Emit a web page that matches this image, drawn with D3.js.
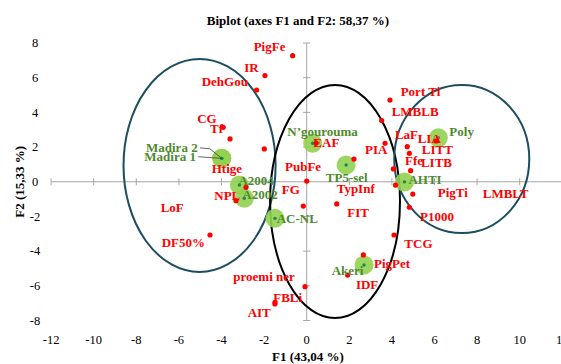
<!DOCTYPE html>
<html>
<head>
<meta charset="utf-8">
<script src="https://cdn.jsdelivr.net/npm/d3@7"></script>
<style>
  html, body { margin: 0; padding: 0; background: #fff; }
  svg { display: block; font-family: "Liberation Serif", "Times New Roman", serif; }
</style>
</head>
<body>
<svg id="chart" width="561" height="364"></svg>
<script>
// ---------- data ----------
const titleText = "Biplot (axes F1 and F2: 58,37 %)";
const xTitle = "F1 (43,04 %)";
const yTitle = "F2 (15,33 %)";
const xTicks = [-12, -10, -8, -6, -4, -2, 0, 2, 4, 6, 8, 10, 12];
const yTicks = [-8, -6, -4, -2, 0, 2, 4, 6, 8];

// active variables (red)
const varNames = ["PigFe", "IR", "DehGou", "CG", "Tf", "LoF", "Htige", "NPL", "DF50%", "proemi ner",
  "FBLi", "AIT", "EAF", "PubFe", "FG", "TypInf", "FIT", "PIA", "Port Ti", "LMBLB",
  "LaF", "LIA", "LITT", "Ffe", "LITB", "PigTi", "LMBLT", "P1000", "TCG", "PigPet", "IDF"];
const varX = [-0.66, -1.96, -2.35, -3.92, -3.60, -1.99, -2.85, -3.32, -4.54, -0.08,
  -1.49, -1.49, 0.44, 0.00, -0.16, 2.22, 1.41, 3.68, 3.91, 3.52,
  4.72, 6.07, 4.82, 4.07, 4.88, 4.98, 4.17, 4.82, 4.10, 2.66, 1.92];
const varY = [7.27, 6.12, 5.29, 3.14, 2.47, 1.89, -0.32, -1.09, -3.07, -6.05,
  -6.96, -7.05, 2.23, 0.04, -1.40, 1.31, -1.28, 2.22, 4.71, 3.53,
  2.02, 2.35, 1.64, 0.74, 0.64, -0.71, -0.19, -1.47, -3.07, -4.22, -5.38];

// observations (green)
const obsNames = ["Madira 2", "Madira 1", "A2004", "A2002", "AC-NL", "N\u2019gourouma", "TP5-sel", "Poly", "AHTI", "Akeri"];
const obsX = [-3.99, -3.99, -3.16, -2.93, -1.49, 0.28, 1.85, 6.18, 4.59, 2.69];
const obsY = [1.35, 1.35, -0.19, -0.95, -2.11, 2.22, 0.97, 2.54, -0.01, -4.80];

// group ellipses (data units)
const ellCx = [-5.03, 1.33, 7.28];
const ellCy = [0.94, -1.14, 1.31];
const ellRx = [3.57, 3.05, 3.17];
const ellRy = [6.14, 6.72, 4.27];

// ---------- layout (label offsets in px, relative to the point) ----------
const varLabelDx = [-39, -20.7, -55, -26, -20, -103.6, -34.3, -21.7, -48.3, -71.7,
  -1.7, -27.3, -2.7, -21.7, -21.6, -17.3, 10.6, -20, 10.7, 10,
  -12.3, -18.3, 12.4, 11.7, 10.3, 25, 87.2, 10.7, 10.3, 10.7, 8.3];
const varLabelDy = [-5, -4, -4, -4, -6, 62.7, -14, -0.7, 12.3, -6,
  -0.8, 13.3, 3.7, -10, -11.7, 34.3, 13.3, 11, -4.3, -4.8,
  -7.7, 1.7, 1, -4, -4, 3, 12.7, 13.7, 13.3, 13, 14];
const obsLabelDx = [-75.7, -77.4, -1, -2, 1.7, -25.4, -20.3, 11, 4, -32.3];
const obsLabelDy = [-6.3, 2.4, 0, 1, 5, -7.6, 16.7, -2, 2, 10];
const ellColors = ["#1d4d61", "#000000", "#1d4d61"];

// ---------- drawing ----------
const svg = d3.select("#chart");
const W = 561, H = 364;
svg.append("rect").attr("width", W).attr("height", H).attr("fill", "#fff");

const x = d3.scaleLinear().domain([-12, 12]).range([51.1, 562.3]);
const y = d3.scaleLinear().domain([-8, 8]).range([320.5, 43]);

// title
svg.append("text").attr("x", 298).attr("y", 25)
  .attr("text-anchor", "middle").attr("font-weight", "bold").attr("font-size", 13)
  .text(titleText);

// axes crossing at origin
const axisColor = "#a6a6a6";
const gAx = svg.append("g");
gAx.append("line").attr("x1", x(-12)).attr("x2", x(12)).attr("y1", y(0)).attr("y2", y(0))
  .attr("stroke", axisColor).attr("stroke-width", 1);
gAx.append("line").attr("x1", x(0)).attr("x2", x(0)).attr("y1", y(-8)).attr("y2", y(8))
  .attr("stroke", axisColor).attr("stroke-width", 1);
gAx.selectAll("line.xt").data(xTicks).enter().append("line")
  .attr("x1", d => x(d)).attr("x2", d => x(d)).attr("y1", y(0) - 3.5).attr("y2", y(0) + 3.5)
  .attr("stroke", axisColor);
gAx.selectAll("line.yt").data(yTicks).enter().append("line")
  .attr("x1", x(0) - 3.5).attr("x2", x(0) + 3.5).attr("y1", d => y(d)).attr("y2", d => y(d))
  .attr("stroke", axisColor);

// tick labels at the bottom / left
svg.selectAll("text.xl").data(xTicks).enter().append("text")
  .attr("x", d => x(d)).attr("y", 344).attr("text-anchor", "middle").attr("font-size", 12.5)
  .text(d => d);
svg.selectAll("text.yl").data(yTicks).enter().append("text")
  .attr("x", 35).attr("y", d => y(d) + 4.3).attr("text-anchor", "middle").attr("font-size", 12.5)
  .text(d => d);

// axis titles
svg.append("text").attr("x", 308).attr("y", 360.5).attr("text-anchor", "middle")
  .attr("font-weight", "bold").attr("font-size", 13).text(xTitle);
svg.append("text").attr("transform", "translate(24," + y(0) + ") rotate(-90)")
  .attr("text-anchor", "middle").attr("font-weight", "bold").attr("font-size", 13).text(yTitle);

// ellipses
svg.selectAll("ellipse.grp").data(ellCx).enter().append("ellipse")
  .attr("cx", d => x(d))
  .attr("cy", (d, i) => y(ellCy[i]))
  .attr("rx", (d, i) => x(ellRx[i]) - x(0))
  .attr("ry", (d, i) => y(0) - y(ellRy[i]))
  .attr("fill", "none").attr("stroke", (d, i) => ellColors[i]).attr("stroke-width", 2);

// observation circles
svg.selectAll("circle.obs").data(obsNames).enter().append("circle")
  .attr("cx", (d, i) => x(obsX[i])).attr("cy", (d, i) => y(obsY[i])).attr("r", 9.5)
  .attr("fill", "#92d050").attr("fill-opacity", 0.9);
svg.selectAll("circle.obsc").data(obsNames).enter().append("circle")
  .attr("cx", (d, i) => x(obsX[i])).attr("cy", (d, i) => y(obsY[i])).attr("r", 1.7)
  .attr("fill", "#1a8a4a");

// Madira leader lines
const m2 = [x(obsX[0]), y(obsY[0])];
svg.append("polyline")
  .attr("points", [[m2[0] - 21.7, m2[1] - 10.5], [m2[0] - 11.7, m2[1] - 9.5], [m2[0], m2[1]]].map(p => p.join(",")).join(" "))
  .attr("fill", "none").attr("stroke", "#404040").attr("stroke-width", 0.8);
svg.append("line")
  .attr("x1", m2[0] - 23.4).attr("y1", m2[1] - 1.6).attr("x2", m2[0]).attr("y2", m2[1])
  .attr("stroke", "#404040").attr("stroke-width", 0.8);

// variable points
svg.selectAll("circle.var").data(varNames).enter().append("circle")
  .attr("cx", (d, i) => x(varX[i])).attr("cy", (d, i) => y(varY[i])).attr("r", 2.6)
  .attr("fill", "#ff0000");

// labels
svg.selectAll("text.obsl").data(obsNames).enter().append("text")
  .attr("x", (d, i) => x(obsX[i]) + obsLabelDx[i]).attr("y", (d, i) => y(obsY[i]) + obsLabelDy[i])
  .attr("font-weight", "bold").attr("font-size", 13).attr("fill", "#4e8a2e")
  .text(d => d);
svg.selectAll("text.varl").data(varNames).enter().append("text")
  .attr("x", (d, i) => x(varX[i]) + varLabelDx[i]).attr("y", (d, i) => y(varY[i]) + varLabelDy[i])
  .attr("font-weight", "bold").attr("font-size", 13).attr("fill", "#ff0000")
  .text(d => d);
</script>
</body>
</html>
